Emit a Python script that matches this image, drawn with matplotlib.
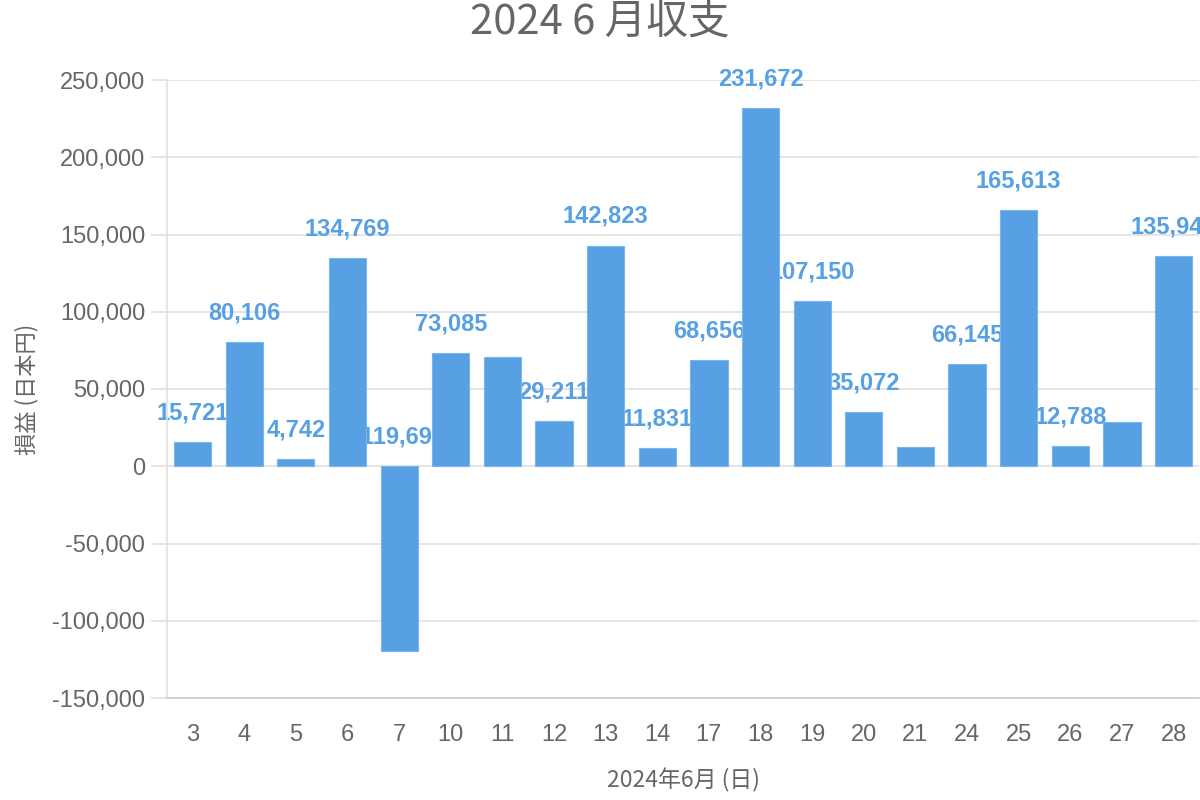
import matplotlib
matplotlib.use("Agg")
import matplotlib.pyplot as plt
from matplotlib.ticker import FuncFormatter, MultipleLocator

plt.rcParams['font.family'] = ['Noto Sans CJK JP', 'DejaVu Sans']

days = ['3', '4', '5', '6', '7', '10', '11', '12', '13', '14',
        '17', '18', '19', '20', '21', '24', '25', '26', '27', '28']
values = [15721, 80106, 4742, 134769, -119690, 73085, 70500, 29211, 142823, 11831,
          68656, 231672, 107150, 35072, 12300, 66145, 165613, 12788, 28500, 135940]
hidden_labels = ['11', '21', '27']

title = '2024 6 月収支'
xlabel = '2024年6月 (日)'
ylabel = '損益 (日本円)'

bar_color = '#56a0e3'
label_color = '#56a0e3'
text_grey = '#666666'
grid_color = '#e0e0e0'
latin = ['Liberation Sans', 'DejaVu Sans']

fig = plt.figure(figsize=(12, 8), dpi=100)
ax = fig.add_axes([0.139, 0.1275, 0.8605, 0.7725])

x = list(range(len(days)))
ax.bar(x, values, width=0.72, color=bar_color, edgecolor='#7ab6ec', linewidth=0.8, zorder=2)

for xi, d, v in zip(x, days, values):
    if d in hidden_labels:
        continue
    ax.annotate(f'{v:,}', xy=(xi, max(v, 0)), xytext=(0, 21), textcoords='offset points',
                ha='center', va='center', color=label_color, fontsize=17,
                fontweight='bold', family=latin, zorder=1, annotation_clip=False)

ax.set_xlim(-0.5, len(days) - 0.5)
ax.set_ylim(-150000, 250000)
ax.yaxis.set_major_locator(MultipleLocator(50000))
ax.yaxis.set_major_formatter(FuncFormatter(lambda v, p: f'{int(v):,}'))
ax.set_xticks(x)
ax.set_xticklabels(days)

ax.grid(axis='y', color=grid_color, linewidth=1.2, zorder=0)
ax.set_axisbelow(True)
for s in ['top', 'right']:
    ax.spines[s].set_visible(False)
ax.spines['left'].set_color(grid_color)
ax.spines['left'].set_linewidth(1.2)
ax.spines['bottom'].set_color('#cccccc')
ax.spines['bottom'].set_linewidth(1.2)

ax.tick_params(axis='y', length=11.5, width=1.2, color=grid_color, pad=4,
               labelsize=17, labelcolor=text_grey)
ax.tick_params(axis='x', length=0, pad=19, labelsize=17, labelcolor=text_grey)
for lab in ax.get_xticklabels() + ax.get_yticklabels():
    lab.set_family(latin)

ax.set_xlabel(xlabel, fontsize=16.5, color=text_grey, labelpad=16)
ax.set_ylabel(ylabel, fontsize=16, color=text_grey, labelpad=10)
fig.text(0.5, 0.972, title, ha='center', va='center', fontsize=30, color=text_grey)

fig.savefig('out.png', dpi=100)
